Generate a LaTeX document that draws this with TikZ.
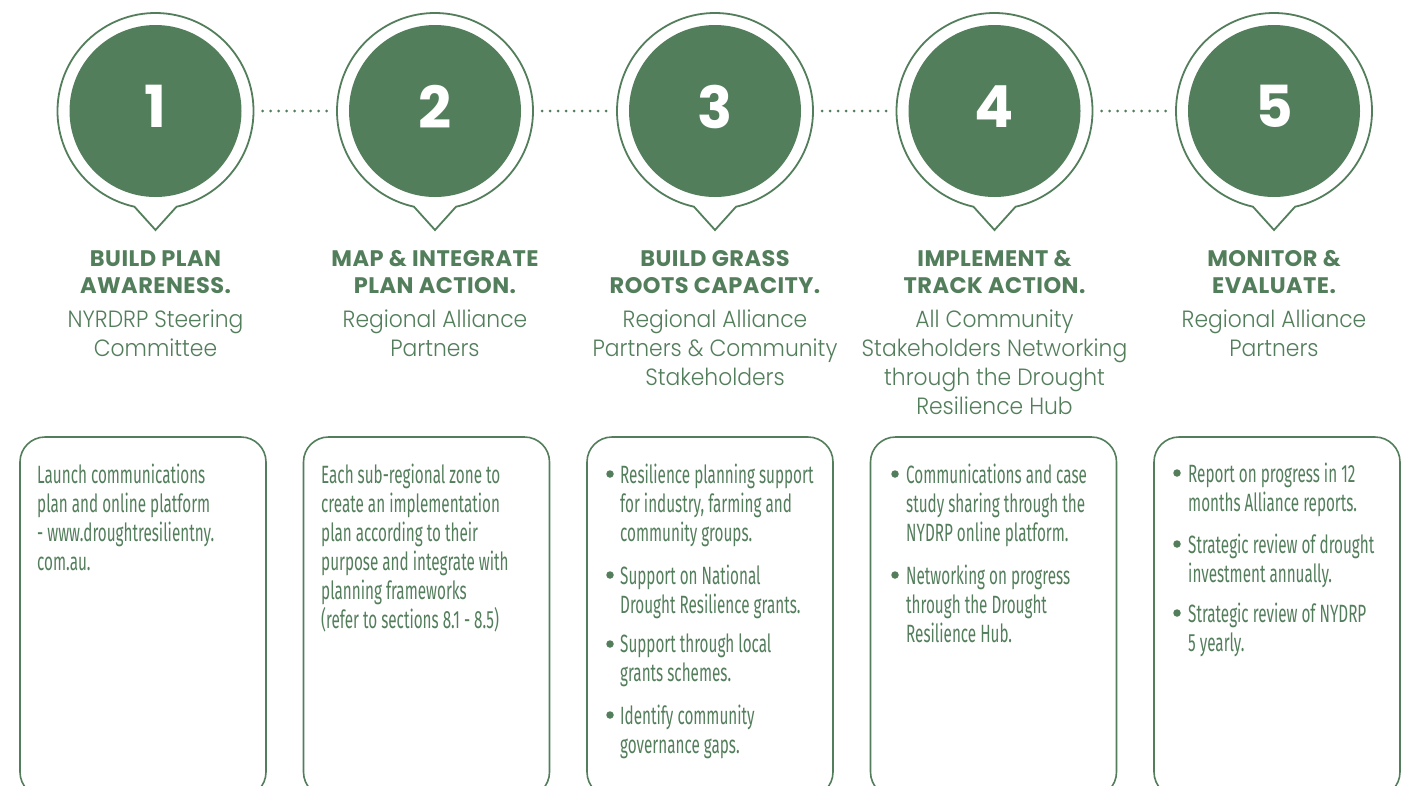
\documentclass[tikz,border=0pt]{standalone}
\usepackage{fontspec}
\usetikzlibrary{calc}
\definecolor{grn}{RGB}{83,126,91}
\newfontfamily\popb[LetterSpace=2]{Poppins}
\newfontfamily\popn{Poppins}
\newfontfamily\popl[FakeStretch=0.93]{Poppins Light}
\newfontfamily\cond[FakeStretch=0.61]{Fira Sans}
\tikzset{
 ring/.style={circle, minimum size=196pt, inner sep=0pt},
 disc/.style={circle, fill=grn, minimum size=172pt, inner sep=0pt, text=white, font=\popn\bfseries\fontsize{58}{58}\selectfont},
 pin/.style={draw=grn, line width=1.8pt},
 conn/.style={draw=grn, line width=3pt, line cap=round, dash pattern=on 0pt off 8pt},
 head/.style={text=grn, font=\popb\bfseries\fontsize{22.5}{27}\selectfont, align=center, inner sep=0pt, anchor=north},
 sub/.style={text=grn, font=\popl\fontsize{23.5}{29}\selectfont, align=center, inner sep=0pt, anchor=north},
 card/.style={draw=grn, line width=1.6pt, rounded corners=25pt},
 body/.style={text=grn, font=\cond\fontsize{25}{29}\selectfont, align=left, inner sep=0pt, anchor=north west},
 bdot/.style={circle, fill=grn, minimum size=7.5pt, inner sep=0pt},
}
\begin{document}
\begin{tikzpicture}[x=1pt,y=-1pt]
\useasboundingbox (0,0) rectangle (1413,785);
\fill[white] (0,0) rectangle (1413,785);
\begin{scope}
\clip (0,0) rectangle (1413,785);
% circles with pins
\foreach \i/\x in {1/155.5,2/435,3/715,4/994.5,5/1274}{
  \node[ring] (r\i) at (\x,111) {};
  \draw[pin] (r\i.center) ++(102.4:98) arc[start angle=102.4,end angle=437.6,radius=98] -- ($(r\i.center)+(0,119)$) -- cycle;
  \node[disc] (n\i) at (\x,111) {\raisebox{9pt}{\i}};
}
% dotted connectors
\foreach \a/\b in {1/2,2/3,3/4,4/5}{
  \draw[conn] ([xshift=9pt]r\a.east) -- ([xshift=-10pt]r\b.west);
}
% headings
\node[head] (h1) at (155.5,250) {BUILD PLAN\\AWARENESS.};
\node[head] (h2) at (435,250) {MAP \& INTEGRATE\\PLAN ACTION.};
\node[head] (h3) at (715,250) {BUILD GRASS\\ROOTS CAPACITY.};
\node[head] (h4) at (994.5,250) {IMPLEMENT \&\\TRACK ACTION.};
\node[head] (h5) at (1274,250) {MONITOR \&\\EVALUATE.};
\node[sub] (s1) at (155.5,310) {NYRDRP Steering\\Committee};
\node[sub] (s2) at (435,310) {Regional Alliance\\Partners};
\node[sub] (s3) at (715,310) {Regional Alliance\\Partners \& Community\\Stakeholders};
\node[sub] (s4) at (994.5,310) {All Community\\Stakeholders Networking\\through the Drought\\Resilience Hub};
\node[sub] (s5) at (1274,310) {Regional Alliance\\Partners};
% cards
\foreach \i/\l in {1/20,2/303.5,3/587,4/870.5,5/1154}{
  \draw[card] (\l,437) rectangle ++(246,360);
}
% card 1
\node[body] (t1) at (37,464) {Launch communications\\plan and online platform\\- www.droughtresilientny.\\com.au.};
% card 2
\node[body] (t2) at (321,464) {Each sub-regional zone to\\create an implementation\\plan according to their\\purpose and integrate with\\planning frameworks\\(refer to sections 8.1 - 8.5)};
% card 3
\node[body] (t31) at (620,464) {Resilience planning support\\for industry, farming and\\community groups.};
\node[body] (t32) at (620,565) {Support on National\\Drought Resilience grants.};
\node[body] (t33) at (620,634) {Support through local\\grants schemes.};
\node[body] (t34) at (620,705) {Identify community\\governance gaps.};
\node[bdot] (d31) at (610,474) {};
\node[bdot] (d32) at (610,575) {};
\node[bdot] (d33) at (610,644) {};
\node[bdot] (d34) at (610,715) {};
% card 4
\node[body] (t41) at (906,464) {Communications and case\\study sharing through the\\NYDRP online platform.};
\node[body] (t42) at (906,565) {Networking on progress\\through the Drought\\Resilience Hub.};
\node[bdot] (d41) at (895,474) {};
\node[bdot] (d42) at (895,575) {};
% card 5
\node[body] (t51) at (1188,463) {Report on progress in 12\\months Alliance reports.};
\node[body] (t52) at (1188,534) {Strategic review of drought\\investment annually.};
\node[body] (t53) at (1188,603) {Strategic review of NYDRP\\5 yearly.};
\node[bdot] (d51) at (1177,473) {};
\node[bdot] (d52) at (1177,544) {};
\node[bdot] (d53) at (1177,613) {};
\end{scope}
\end{tikzpicture}
\end{document}
